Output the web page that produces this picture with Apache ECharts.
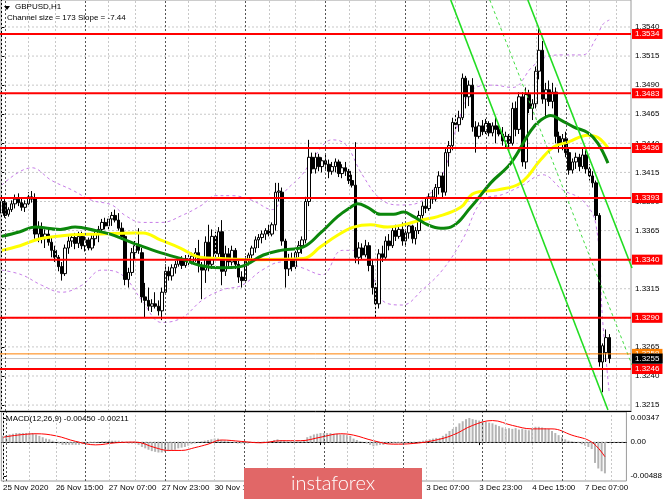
<!DOCTYPE html>
<html><head><meta charset="utf-8">
<script src="https://cdn.jsdelivr.net/npm/echarts@6/dist/echarts.min.js"></script>
<style>html,body{margin:0;padding:0;background:#fff}#c{width:665px;height:499px}</style>
</head><body><div id="c"></div>
<script>
const SLOTS = 189;
const open = [1.3380,1.3389,1.3379,1.3383,1.3388,1.3392,1.3389,1.3385,1.3388,1.3394,1.3393,1.3362,1.3368,1.3358,1.3362,1.3355,1.3348,1.3342,1.3334,1.3328,1.3350,1.3356,1.3359,1.3354,1.3360,1.3352,1.3357,1.3350,1.3358,1.3362,1.3366,1.3372,1.3369,1.3375,1.3378,1.3374,1.3367,1.3360,1.3323,1.3329,1.3346,1.3352,1.3346,1.3308,1.3305,1.3300,1.3302,1.3300,1.3296,1.3312,1.3330,1.3326,1.3333,1.3336,1.3340,1.3335,1.3341,1.3338,1.3343,1.3346,1.3335,1.3331,1.3355,1.3336,1.3360,1.3345,1.3364,1.3330,1.3345,1.3338,1.3348,1.3336,1.3325,1.3322,1.3340,1.3344,1.3350,1.3357,1.3359,1.3362,1.3365,1.3362,1.3370,1.3398,1.3398,1.3356,1.3332,1.3340,1.3334,1.3346,1.3352,1.3357,1.3390,1.3428,1.3418,1.3428,1.3420,1.3425,1.3422,1.3416,1.3420,1.3424,1.3414,1.3419,1.3416,1.3408,1.3404,1.3342,1.3350,1.3344,1.3352,1.3335,1.3316,1.3302,1.3345,1.3342,1.3356,1.3352,1.3365,1.3360,1.3366,1.3356,1.3363,1.3369,1.3358,1.3365,1.3378,1.3386,1.3384,1.3394,1.3392,1.3402,1.3412,1.3398,1.3432,1.3438,1.3458,1.3456,1.3462,1.3496,1.3480,1.3490,1.3454,1.3446,1.3455,1.3450,1.3457,1.3449,1.3455,1.3452,1.3448,1.3442,1.3446,1.3440,1.3470,1.3452,1.3480,1.3424,1.3482,1.3470,1.3474,1.3502,1.3520,1.3478,1.3486,1.3476,1.3484,1.3446,1.3440,1.3444,1.3432,1.3417,1.3424,1.3428,1.3420,1.3430,1.3418,1.3412,1.3406,1.3378,1.3252,1.3260,1.3273];
const high = [1.3394,1.3392,1.3385,1.3391,1.3396,1.3397,1.3393,1.3391,1.3398,1.3399,1.3397,1.3373,1.3372,1.3366,1.3368,1.3360,1.3352,1.3344,1.3338,1.3353,1.3360,1.3362,1.3363,1.3364,1.3364,1.3360,1.3359,1.3362,1.3364,1.3369,1.3375,1.3376,1.3377,1.3381,1.3383,1.3380,1.3372,1.3364,1.3333,1.3350,1.3356,1.3367,1.3350,1.3320,1.3316,1.3306,1.3312,1.3305,1.3316,1.3336,1.3334,1.3336,1.3339,1.3342,1.3343,1.3344,1.3345,1.3346,1.3350,1.3357,1.3338,1.3360,1.3370,1.3366,1.3364,1.3368,1.3374,1.3352,1.3350,1.3352,1.3350,1.3340,1.3330,1.3343,1.3346,1.3352,1.3360,1.3362,1.3365,1.3367,1.3370,1.3372,1.3406,1.3406,1.3402,1.3358,1.3345,1.3346,1.3349,1.3356,1.3360,1.3394,1.3443,1.3432,1.3432,1.3431,1.3428,1.3430,1.3426,1.3424,1.3427,1.3426,1.3422,1.3424,1.3418,1.3413,1.3441,1.3355,1.3354,1.3357,1.3355,1.3340,1.3322,1.3349,1.3352,1.3360,1.3362,1.3368,1.3370,1.3369,1.3372,1.3366,1.3372,1.3370,1.3368,1.3382,1.3390,1.3393,1.3397,1.3400,1.3405,1.3416,1.3415,1.3436,1.3442,1.3462,1.3466,1.3468,1.3500,1.3498,1.3494,1.3496,1.3459,1.3458,1.3460,1.3461,1.3459,1.3458,1.3462,1.3457,1.3454,1.3450,1.3448,1.3475,1.3476,1.3484,1.3484,1.3488,1.3486,1.3478,1.3506,1.3539,1.3528,1.3492,1.3494,1.3492,1.3488,1.3450,1.3448,1.3450,1.3436,1.3427,1.3432,1.3431,1.3436,1.3434,1.3422,1.3416,1.3408,1.3380,1.3268,1.3280,1.3276];
const low = [1.3374,1.3376,1.3377,1.3381,1.3384,1.3386,1.3382,1.3381,1.3386,1.3389,1.3358,1.3355,1.3354,1.3350,1.3352,1.3342,1.3338,1.3330,1.3322,1.3326,1.3345,1.3351,1.3349,1.3350,1.3349,1.3347,1.3348,1.3348,1.3352,1.3355,1.3362,1.3366,1.3365,1.3369,1.3372,1.3365,1.3357,1.3318,1.3316,1.3326,1.3340,1.3345,1.3303,1.3290,1.3296,1.3295,1.3298,1.3292,1.3288,1.3310,1.3322,1.3322,1.3328,1.3334,1.3332,1.3333,1.3335,1.3336,1.3338,1.3329,1.3306,1.3320,1.3330,1.3332,1.3340,1.3342,1.3318,1.3326,1.3334,1.3335,1.3332,1.3320,1.3316,1.3320,1.3335,1.3340,1.3346,1.3350,1.3354,1.3357,1.3360,1.3360,1.3365,1.3390,1.3352,1.3316,1.3326,1.3330,1.3332,1.3342,1.3345,1.3354,1.3386,1.3414,1.3414,1.3416,1.3415,1.3418,1.3410,1.3413,1.3415,1.3411,1.3410,1.3412,1.3405,1.3402,1.3337,1.3336,1.3340,1.3342,1.3330,1.3310,1.3290,1.3298,1.3338,1.3340,1.3348,1.3350,1.3356,1.3358,1.3352,1.3352,1.3358,1.3354,1.3353,1.3362,1.3374,1.3380,1.3382,1.3388,1.3390,1.3396,1.3393,1.3395,1.3420,1.3434,1.3452,1.3450,1.3460,1.3470,1.3472,1.3450,1.3432,1.3444,1.3447,1.3448,1.3446,1.3446,1.3440,1.3446,1.3438,1.3436,1.3436,1.3438,1.3446,1.3448,1.3420,1.3418,1.3466,1.3460,1.3470,1.3495,1.3474,1.3462,1.3472,1.3470,1.3440,1.3432,1.3434,1.3428,1.3413,1.3414,1.3418,1.3416,1.3418,1.3414,1.3408,1.3402,1.3374,1.3248,1.3226,1.3252,1.3251];
const close = [1.3390,1.3378,1.3383,1.3388,1.3392,1.3389,1.3385,1.3388,1.3394,1.3392,1.3362,1.3368,1.3358,1.3362,1.3355,1.3348,1.3342,1.3334,1.3328,1.3350,1.3356,1.3359,1.3354,1.3360,1.3352,1.3357,1.3350,1.3358,1.3362,1.3366,1.3372,1.3369,1.3375,1.3378,1.3374,1.3367,1.3360,1.3323,1.3329,1.3346,1.3352,1.3348,1.3308,1.3305,1.3300,1.3302,1.3300,1.3296,1.3312,1.3330,1.3326,1.3333,1.3336,1.3340,1.3335,1.3341,1.3338,1.3343,1.3346,1.3335,1.3331,1.3355,1.3336,1.3360,1.3345,1.3364,1.3330,1.3345,1.3338,1.3348,1.3336,1.3325,1.3322,1.3340,1.3344,1.3350,1.3357,1.3359,1.3362,1.3365,1.3362,1.3370,1.3398,1.3399,1.3356,1.3332,1.3340,1.3334,1.3346,1.3352,1.3357,1.3390,1.3428,1.3418,1.3428,1.3420,1.3425,1.3422,1.3416,1.3420,1.3424,1.3414,1.3419,1.3416,1.3408,1.3404,1.3342,1.3350,1.3344,1.3352,1.3335,1.3316,1.3302,1.3345,1.3342,1.3356,1.3352,1.3365,1.3360,1.3366,1.3356,1.3363,1.3369,1.3358,1.3365,1.3378,1.3386,1.3384,1.3394,1.3392,1.3402,1.3412,1.3398,1.3432,1.3438,1.3458,1.3456,1.3462,1.3496,1.3480,1.3490,1.3454,1.3446,1.3455,1.3450,1.3457,1.3449,1.3455,1.3452,1.3448,1.3442,1.3446,1.3440,1.3470,1.3452,1.3480,1.3424,1.3482,1.3470,1.3474,1.3502,1.3520,1.3478,1.3486,1.3476,1.3484,1.3446,1.3440,1.3444,1.3432,1.3417,1.3424,1.3428,1.3420,1.3430,1.3418,1.3412,1.3406,1.3378,1.3252,1.3266,1.3273,1.3255];

const labelIdx = [0,16,32,48,64,80,96,112,128,144,160,176];
const labelText = ['25 Nov 2020','26 Nov 15:00','27 Nov 07:00','27 Nov 23:00','30 Nov 15:00','1 Dec 07:00','1 Dec 23:00','2 Dec 15:00','3 Dec 07:00','3 Dec 23:00','4 Dec 15:00','7 Dec 07:00'];
const daySep = [1,25,49,73,97,121,145,169];
const gridIdx = [0,8,16,32,40,56,64,80,88,104,112,128,136,152,160,176,184];
const priceTicks = [1.3540,1.3515,1.3490,1.3465,1.3440,1.3415,1.3390,1.3365,1.3340,1.3315,1.3290,1.3265,1.3240,1.3215];
const levels = [1.3534,1.3483,1.3436,1.3393,1.3340,1.3290,1.3246];
const bidLevel = 1.3255;
const orangeLevel = 1.3259;

const maGreen = [[0,1.3360],[5.5,1.3364],[10,1.3368],[17.5,1.3366],[22,1.3368],[28,1.3365],[32.5,1.3362],[37,1.3357],[41.5,1.3352],[47.5,1.3346],[53.5,1.3341],[59.5,1.3335],[65.5,1.3333],[71.5,1.3334],[78.4,1.3344],[83.5,1.3348],[90.4,1.3351],[95.5,1.3363],[100.6,1.3377],[104.5,1.3385],[106.6,1.3388],[109.6,1.3385],[113.5,1.3379],[117.4,1.3379],[120.4,1.3381],[123.4,1.3377],[127.6,1.3370],[131.5,1.3367],[134.5,1.3368],[140.5,1.3385],[146.5,1.3406],[152.5,1.3423],[158.5,1.3451],[161.5,1.3460],[164.5,1.3464],[167.5,1.3460],[171.4,1.3454],[175.6,1.3449],[178.6,1.3440],[181.6,1.3423]];
const maYellow = [[0,1.3348],[5.5,1.3352],[11.5,1.3358],[19.6,1.3361],[29.5,1.3362],[39.4,1.3363],[42.4,1.3363],[47.5,1.3357],[53.5,1.3350],[59.5,1.3342],[65.5,1.3341],[75.4,1.3340],[90.4,1.3341],[95.5,1.3351],[100.6,1.3361],[105.4,1.3368],[110.5,1.3370],[115.6,1.3368],[120.4,1.3370],[125.5,1.3374],[130.6,1.3377],[137.5,1.3385],[141.4,1.3397],[148.6,1.3400],[155.5,1.3406],[161.5,1.3426],[165.4,1.3437],[169.6,1.3441],[175.6,1.3447],[178.6,1.3445],[181.6,1.3436]];
const bandUpper = [[0,1.3404],[9,1.3419],[15,1.3408],[21,1.3400],[27,1.3391],[33,1.3387],[37,1.3378],[42,1.3372],[48,1.3372],[54,1.3378],[60,1.3387],[64,1.3395],[69,1.3395],[75,1.3391],[81,1.3383],[85,1.3399],[90,1.3413],[94,1.3430],[99,1.3443],[103,1.3439],[108,1.3413],[114,1.3391],[120,1.3387],[126,1.3391],[132,1.3413],[136,1.3451],[141,1.3486],[147,1.3490],[153,1.3488],[159,1.3506],[163,1.3514],[168,1.3516],[174,1.3516],[178,1.3530],[180,1.3542],[182,1.3546]];
const bandLower = [[0,1.3331],[6,1.3327],[12,1.3318],[18,1.3312],[24,1.3318],[30,1.3331],[36,1.3327],[42,1.3305],[48,1.3286],[54,1.3290],[60,1.3305],[66,1.3314],[72,1.3318],[78,1.3331],[84,1.3338],[90,1.3333],[96,1.3327],[102,1.3348],[108,1.3348],[114,1.3305],[120,1.3301],[126,1.3314],[132,1.3331],[138,1.3357],[144,1.3391],[150,1.3396],[156,1.3404],[162,1.3413],[168,1.3400],[174,1.3391],[178,1.3370],[180,1.3288],[182,1.3225]];
const channelUpper = [[157.6,1.35632],[188.8,1.33328]];
const channelMid = [[146.2,1.35632],[188.8,1.32494]];
const channelLower = [[134.5,1.35632],[181.6,1.32107]];

const macdHist = [9,10,11,12,13,13,13,13,13,13,11,9,7,5,4, 2,0,-2,-4,-4,-4,-4,-4,-4,-3, -2,-2,-1,-1,0,1,1,2,2,2,2,1,-1,-2,-2, -2,-4,-7,-9,-11,-13,-14,-15,-15,-14,-13,-12,-11,-9,-8,-7, -5,-3,-2,0,1,2,3,4,5,5, 3,2,1,0,-1,-2,-2, -2,-2,-1,-1,0,0,1,1,1, 3,4,3, 2,1,1,1,1,1, 3,7,9,11,12,13,13, 13,13,12,12,11,11,10,9, 5,3,1,0,-2,-4,-6, -5,-4,-4,-3,-2,-2,-2,-2, -2,-1,-1,-1,0,1,2,3,4,5,6,6, 9,12,16,19,22,27,30,33, 34.7,33,32,31,30,29,28,27,25,23,21,19, 20,19,20,18,19,18,17,19, 22,22,21,20,19,16,13,10,7,4, 2,1,0,-1,-3,-5,-7,-10, -30,-38,-42,-45].map(v => v / 10000);
const macdSignal = [[0,7],[10,12],[16,9],[22,1],[28,-4],[34,-1],[40,0],[46,-8],[50,-12],[54,-12],[58,-8],[62,-3],[66,3],[72,1],[78,-1],[84,2],[90,2],[96,7],[102,12],[106,10],[112,2],[118,-3],[124,-2],[130,2],[136,10],[142,24],[148,31],[154,24],[160,19],[166,19],[172,10],[178,0],[182,-21.1]].map(p => [p[0], p[1] / 10000]);
const macdTicks = [0.00347, 0, -0.00488];

const FONT = 'Liberation Sans';
const XMIN = -0.5, XMAX = SLOTS - 0.5;
const slots = Array.from({length: SLOTS}, (_, i) => String(i));
const labelMap = {}; labelIdx.forEach((k, j) => labelMap[k] = labelText[j]);
const candleData = open.map((o, i) => [o, close[i], low[i], high[i]]);

const gridLineStyle = {color: '#c8c8c8', type: [2, 2], width: 1};
const sepLineStyle = {color: '#555555', type: [2, 2], width: 1};
function vLines() {
  return gridIdx.map(v => ({xAxis: v, lineStyle: gridLineStyle}))
    .concat(daySep.map(v => ({xAxis: v, lineStyle: sepLineStyle})));
}
function hLine(v, yAxisIndex, xAxisIndex, style, z) {
  return {type: 'line', xAxisIndex: xAxisIndex, yAxisIndex: yAxisIndex, data: [[XMIN, v], [XMAX, v]],
    showSymbol: false, silent: true, z: z, lineStyle: style};
}
function levelSeries(v, bg, col, w, z) {
  return {type: 'line', xAxisIndex: 2, yAxisIndex: 0, data: [[XMIN, v], [XMAX, v]], showSymbol: false, silent: true,
    clip: false, z: z, lineStyle: {color: col, width: w},
    endLabel: {show: true, formatter: v.toFixed(4), distance: 1, backgroundColor: bg, color: '#fff',
      fontSize: 8, fontFamily: FONT, padding: [1, 3, 0, 3], lineHeight: 9}};
}

const series = [];
series.push({type: 'line', name: 'grid', xAxisIndex: 2, yAxisIndex: 0, data: [], z: 1, silent: true,
  markLine: {silent: true, symbol: ['none', 'none'], label: {show: false}, animation: false, data: vLines()}});
series.push({type: 'line', name: 'gridm', xAxisIndex: 3, yAxisIndex: 1, data: [], z: 1, silent: true,
  markLine: {silent: true, symbol: ['none', 'none'], label: {show: false}, animation: false, data: vLines()}});
priceTicks.forEach(v => series.push(hLine(v, 0, 2, gridLineStyle, 1)));
series.push(hLine(0, 1, 3, gridLineStyle, 1));
series.push({type: 'bar', name: 'MACD', xAxisIndex: 1, yAxisIndex: 1, data: macdHist, barWidth: 2, itemStyle: {color: '#b4b4b4'}, z: 2, silent: true});
series.push({type: 'line', name: 'Signal', xAxisIndex: 3, yAxisIndex: 1, data: macdSignal, smooth: 0.4, showSymbol: false,
  lineStyle: {color: '#ff0000', width: 1}, z: 3, silent: true});
series.push({type: 'line', name: 'bandU', xAxisIndex: 2, yAxisIndex: 0, data: bandUpper, smooth: 0.4, showSymbol: false,
  lineStyle: {color: '#c77de8', width: 1, type: [3, 3]}, z: 2, silent: true});
series.push({type: 'line', name: 'bandL', xAxisIndex: 2, yAxisIndex: 0, data: bandLower, smooth: 0.4, showSymbol: false,
  lineStyle: {color: '#c77de8', width: 1, type: [3, 3]}, z: 2, silent: true});
series.push(levelSeries(bidLevel, '#000000', '#c8c8c8', 1, 2));
series.push({type: 'candlestick', name: 'GBPUSD', xAxisIndex: 0, yAxisIndex: 0, data: candleData, barWidth: 3, z: 3, silent: true,
  itemStyle: {color: '#ffffff', color0: '#000000', borderColor: '#000000', borderColor0: '#000000', borderWidth: 1}});
series.push({type: 'line', name: 'MAy', xAxisIndex: 2, yAxisIndex: 0, data: maYellow, smooth: 0.4, showSymbol: false,
  lineStyle: {color: '#ffff00', width: 3}, z: 4, silent: true});
series.push({type: 'line', name: 'MAg', xAxisIndex: 2, yAxisIndex: 0, data: maGreen, smooth: 0.4, showSymbol: false,
  lineStyle: {color: '#0b870b', width: 3}, z: 4, silent: true});
series.push({type: 'line', name: 'chU', xAxisIndex: 2, yAxisIndex: 0, data: channelUpper, showSymbol: false,
  lineStyle: {color: '#22dd22', width: 1.6}, z: 5, silent: true});
series.push({type: 'line', name: 'chL', xAxisIndex: 2, yAxisIndex: 0, data: channelLower, showSymbol: false,
  lineStyle: {color: '#22dd22', width: 1.6}, z: 5, silent: true});
series.push({type: 'line', name: 'chM', xAxisIndex: 2, yAxisIndex: 0, data: channelMid, showSymbol: false,
  lineStyle: {color: '#44dd44', width: 1, type: [3, 3]}, z: 5, silent: true});
series.push(levelSeries(orangeLevel, '#ff8000', '#ff8000', 1, 6));
levels.forEach(v => series.push(levelSeries(v, '#ff0000', '#ff0000', 2, 7)));
// black bid label drawn on top of the orange one
series.push(Object.assign(levelSeries(bidLevel, '#000000', '#c8c8c8', 1, 8), {lineStyle: {opacity: 0}}));

const chart = echarts.init(document.getElementById('c'), null, {renderer: 'canvas'});
chart.setOption({
  animation: false,
  backgroundColor: '#ffffff',
  grid: [
    {left: 0, right: 34, top: 0, height: 411, show: true, borderColor: '#9a9a9a', borderWidth: 1},
    {left: 0, right: 34, top: 412, height: 69, show: true, borderColor: '#9a9a9a', borderWidth: 1}
  ],
  xAxis: [
    {type: 'category', gridIndex: 0, data: slots, boundaryGap: true,
     axisLine: {show: true, lineStyle: {color: '#000', width: 1}}, axisTick: {show: false}, axisLabel: {show: false}, splitLine: {show: false}},
    {type: 'category', gridIndex: 1, data: slots, boundaryGap: true,
     axisLine: {show: true, lineStyle: {color: '#000', width: 1}},
     axisTick: {show: true, alignWithLabel: true, length: 3, interval: (i) => labelMap[i] !== undefined, lineStyle: {color: '#000'}},
     axisLabel: {show: true, interval: (i) => labelMap[i] !== undefined, formatter: (v, i) => labelMap[i] || '',
       align: 'left', margin: 3, fontSize: 8, fontFamily: FONT, color: '#000'},
     splitLine: {show: false}},
    {type: 'value', gridIndex: 0, min: XMIN, max: XMAX, show: false},
    {type: 'value', gridIndex: 1, min: XMIN, max: XMAX, show: false}
  ],
  yAxis: [
    {type: 'value', gridIndex: 0, position: 'right', min: 1.32099, max: 1.35632,
     axisLine: {show: true, lineStyle: {color: '#000', width: 1}},
     axisTick: {show: true, length: 3, customValues: priceTicks, lineStyle: {color: '#000'}},
     axisLabel: {show: true, customValues: priceTicks, formatter: v => v.toFixed(4), margin: 4, fontSize: 8, fontFamily: FONT, color: '#000'},
     splitLine: {show: false}},
    {type: 'value', gridIndex: 1, position: 'right', min: -0.00560, max: 0.00433,
     axisLine: {show: true, lineStyle: {color: '#000', width: 1}},
     axisTick: {show: true, length: 3, customValues: macdTicks, lineStyle: {color: '#000'}},
     axisLabel: {show: true, customValues: macdTicks, formatter: v => (v === 0 ? '0.00' : v.toFixed(5)), margin: 4, fontSize: 8, fontFamily: FONT, color: '#000'},
     splitLine: {show: false}}
  ],
  series: series,
  graphic: [
    {type: 'polygon', shape: {points: [[4, 6], [10, 6], [7, 10]]}, style: {fill: '#000'}, z: 10},
    {type: 'text', left: 15, top: 3, style: {text: 'GBPUSD,H1', font: '8px "Liberation Sans"', fill: '#000'}, z: 10},
    {type: 'text', left: 7, top: 14, style: {text: 'Channel size = 173 Slope = -7.44', font: '8px "Liberation Sans"', fill: '#000'}, z: 10},
    {type: 'text', left: 6, top: 415, style: {text: 'MACD(12,26,9) -0.00450 -0.00211', font: '8px "Liberation Sans"', fill: '#000'}, z: 10},
    {type: 'rect', shape: {x: 244, y: 468, width: 178, height: 31}, style: {fill: '#e16767'}, z: 20},
    {type: 'text', x: 333, y: 484, style: {text: 'instaforex', font: '300 20px Lato', fill: '#ffffff', align: 'center', verticalAlign: 'middle'}, z: 21}
  ]
});
</script>
</body></html>
